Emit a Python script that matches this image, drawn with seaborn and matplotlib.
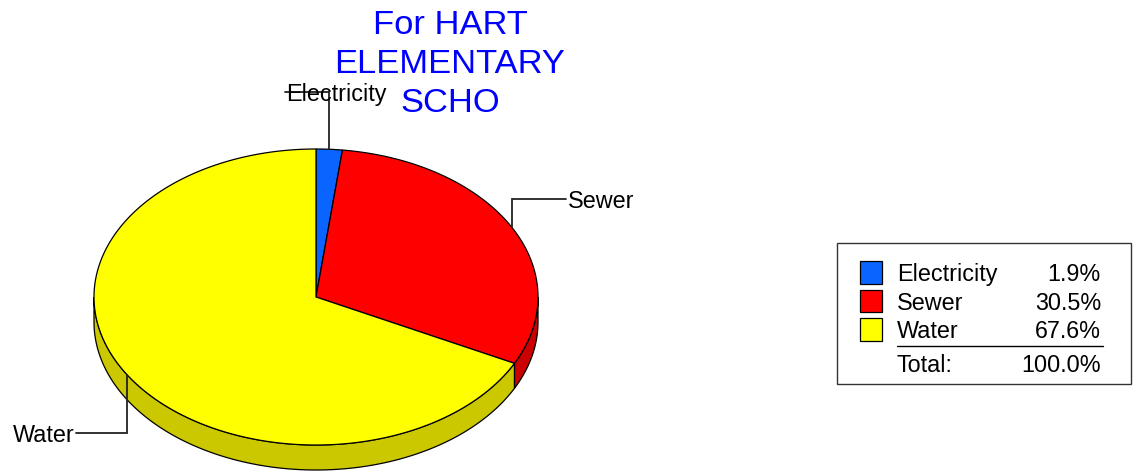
import numpy as np
import matplotlib
matplotlib.use("Agg")
import matplotlib.pyplot as plt
from matplotlib.patches import Polygon, Rectangle
import seaborn as sns

# Utility cost shares (percent)
categories = ["Electricity", "Sewer", "Water"]
shares = [1.9, 30.5, 67.6]
top_colors = ["#0A64FF", "#FF0000", "#FFFF00"]
side_colors = ["#0850CC", "#CC0000", "#CCC800"]
title_lines = ["For HART", "ELEMENTARY", "SCHO"]

sns.set_theme(style="white")
plt.rcParams["font.family"] = ["Liberation Sans", "DejaVu Sans"]
plt.rcParams["text.color"] = "black"

W, H = 1138, 473
fig = plt.figure(figsize=(W / 100, H / 100), dpi=100)
ax = fig.add_axes([0, 0, 1, 1])
ax.set_xlim(0, W)
ax.set_ylim(H, 0)
ax.axis("off")

# Elliptical pie geometry (pixel units)
cx, cy, rx, ry, depth = 316, 297, 222, 148, 25


def pt(theta_deg, dy=0.0):
    t = np.radians(theta_deg)
    return cx + rx * np.cos(t), cy - ry * np.sin(t) + dy


def arc(a_from, a_to, dy=0.0, n=None):
    if n is None:
        n = max(4, int(abs(a_to - a_from) * 2))
    th = np.linspace(a_from, a_to, n)
    xs, ys = pt(th, dy)
    return np.column_stack([xs, ys])


total = sum(shares)
fracs = [s / total for s in shares]
starts, ends = [], []
a = 90.0
for f in fracs:
    starts.append(a)
    a -= 360.0 * f
    ends.append(a)

# Side walls of the front half
for a0, a1, col in zip(starts, ends, side_colors):
    for k in (-360, 0, 360):
        hi = min(a0 + k, 0.0)
        lo = max(a1 + k, -180.0)
        if hi > lo:
            top = arc(hi, lo)
            bot = arc(lo, hi, dy=depth)
            ax.add_patch(Polygon(np.vstack([top, bot]), closed=True,
                                 facecolor=col, edgecolor="black",
                                 linewidth=0.9, zorder=1))

# Top face wedges
for a0, a1, col in zip(starts, ends, top_colors):
    pts = np.vstack([[cx, cy], arc(a0, a1)])
    ax.add_patch(Polygon(pts, closed=True, facecolor=col,
                         edgecolor="black", linewidth=0.9, zorder=2))

# Leader lines and slice labels
label_fs = 16.8
mids = [(s + e) / 2 for s, e in zip(starts, ends)]
elbows = {
    "Electricity": dict(y=92, x=285, ha="left", tx=286),
    "Sewer": dict(y=199, x=566, ha="left", tx=568),
    "Water": dict(y=433, x=76, ha="right", tx=75),
}
for name, m in zip(categories, mids):
    px, py = pt(m)
    e = elbows[name]
    ax.plot([px, px, e["x"]], [py, e["y"], e["y"]], color="#222222",
            linewidth=1.3, zorder=3, solid_joinstyle="miter")
    ax.text(e["tx"], e["y"], name, fontsize=label_fs, ha=e["ha"],
            va="center_baseline", color="black", zorder=4)

# Title
for i, line in enumerate(title_lines):
    ax.text(450, 22 + 39 * i, line, fontsize=24.8, color="#0000FF",
            ha="center", va="center_baseline", zorder=4)

# Legend table
ax.add_patch(Rectangle((837.5, 242.5), 294, 141.5, facecolor="white",
                       edgecolor="#333333", linewidth=1.0, zorder=3))
row_y = [272, 300.5, 329]
for name, share, col, y in zip(categories, shares, top_colors, row_y):
    ax.add_patch(Rectangle((860, y - 11), 22.5, 22.5, facecolor=col,
                           edgecolor="black", linewidth=0.9, zorder=4))
    ax.text(897, y, name, fontsize=label_fs, ha="left", color="black",
            va="center_baseline", zorder=4)
    ax.text(1101, y, f"{share:.1f}%", fontsize=label_fs, ha="right",
            color="black", va="center_baseline", zorder=4)
ax.plot([897, 1103], [346, 346], color="black", linewidth=1.0, zorder=4)
ax.text(897, 363, "Total:", fontsize=label_fs, ha="left", color="black",
        va="center_baseline", zorder=4)
ax.text(1101, 363, f"{total:.1f}%", fontsize=label_fs, ha="right",
        color="black", va="center_baseline", zorder=4)

fig.savefig("out.png", dpi=100)
